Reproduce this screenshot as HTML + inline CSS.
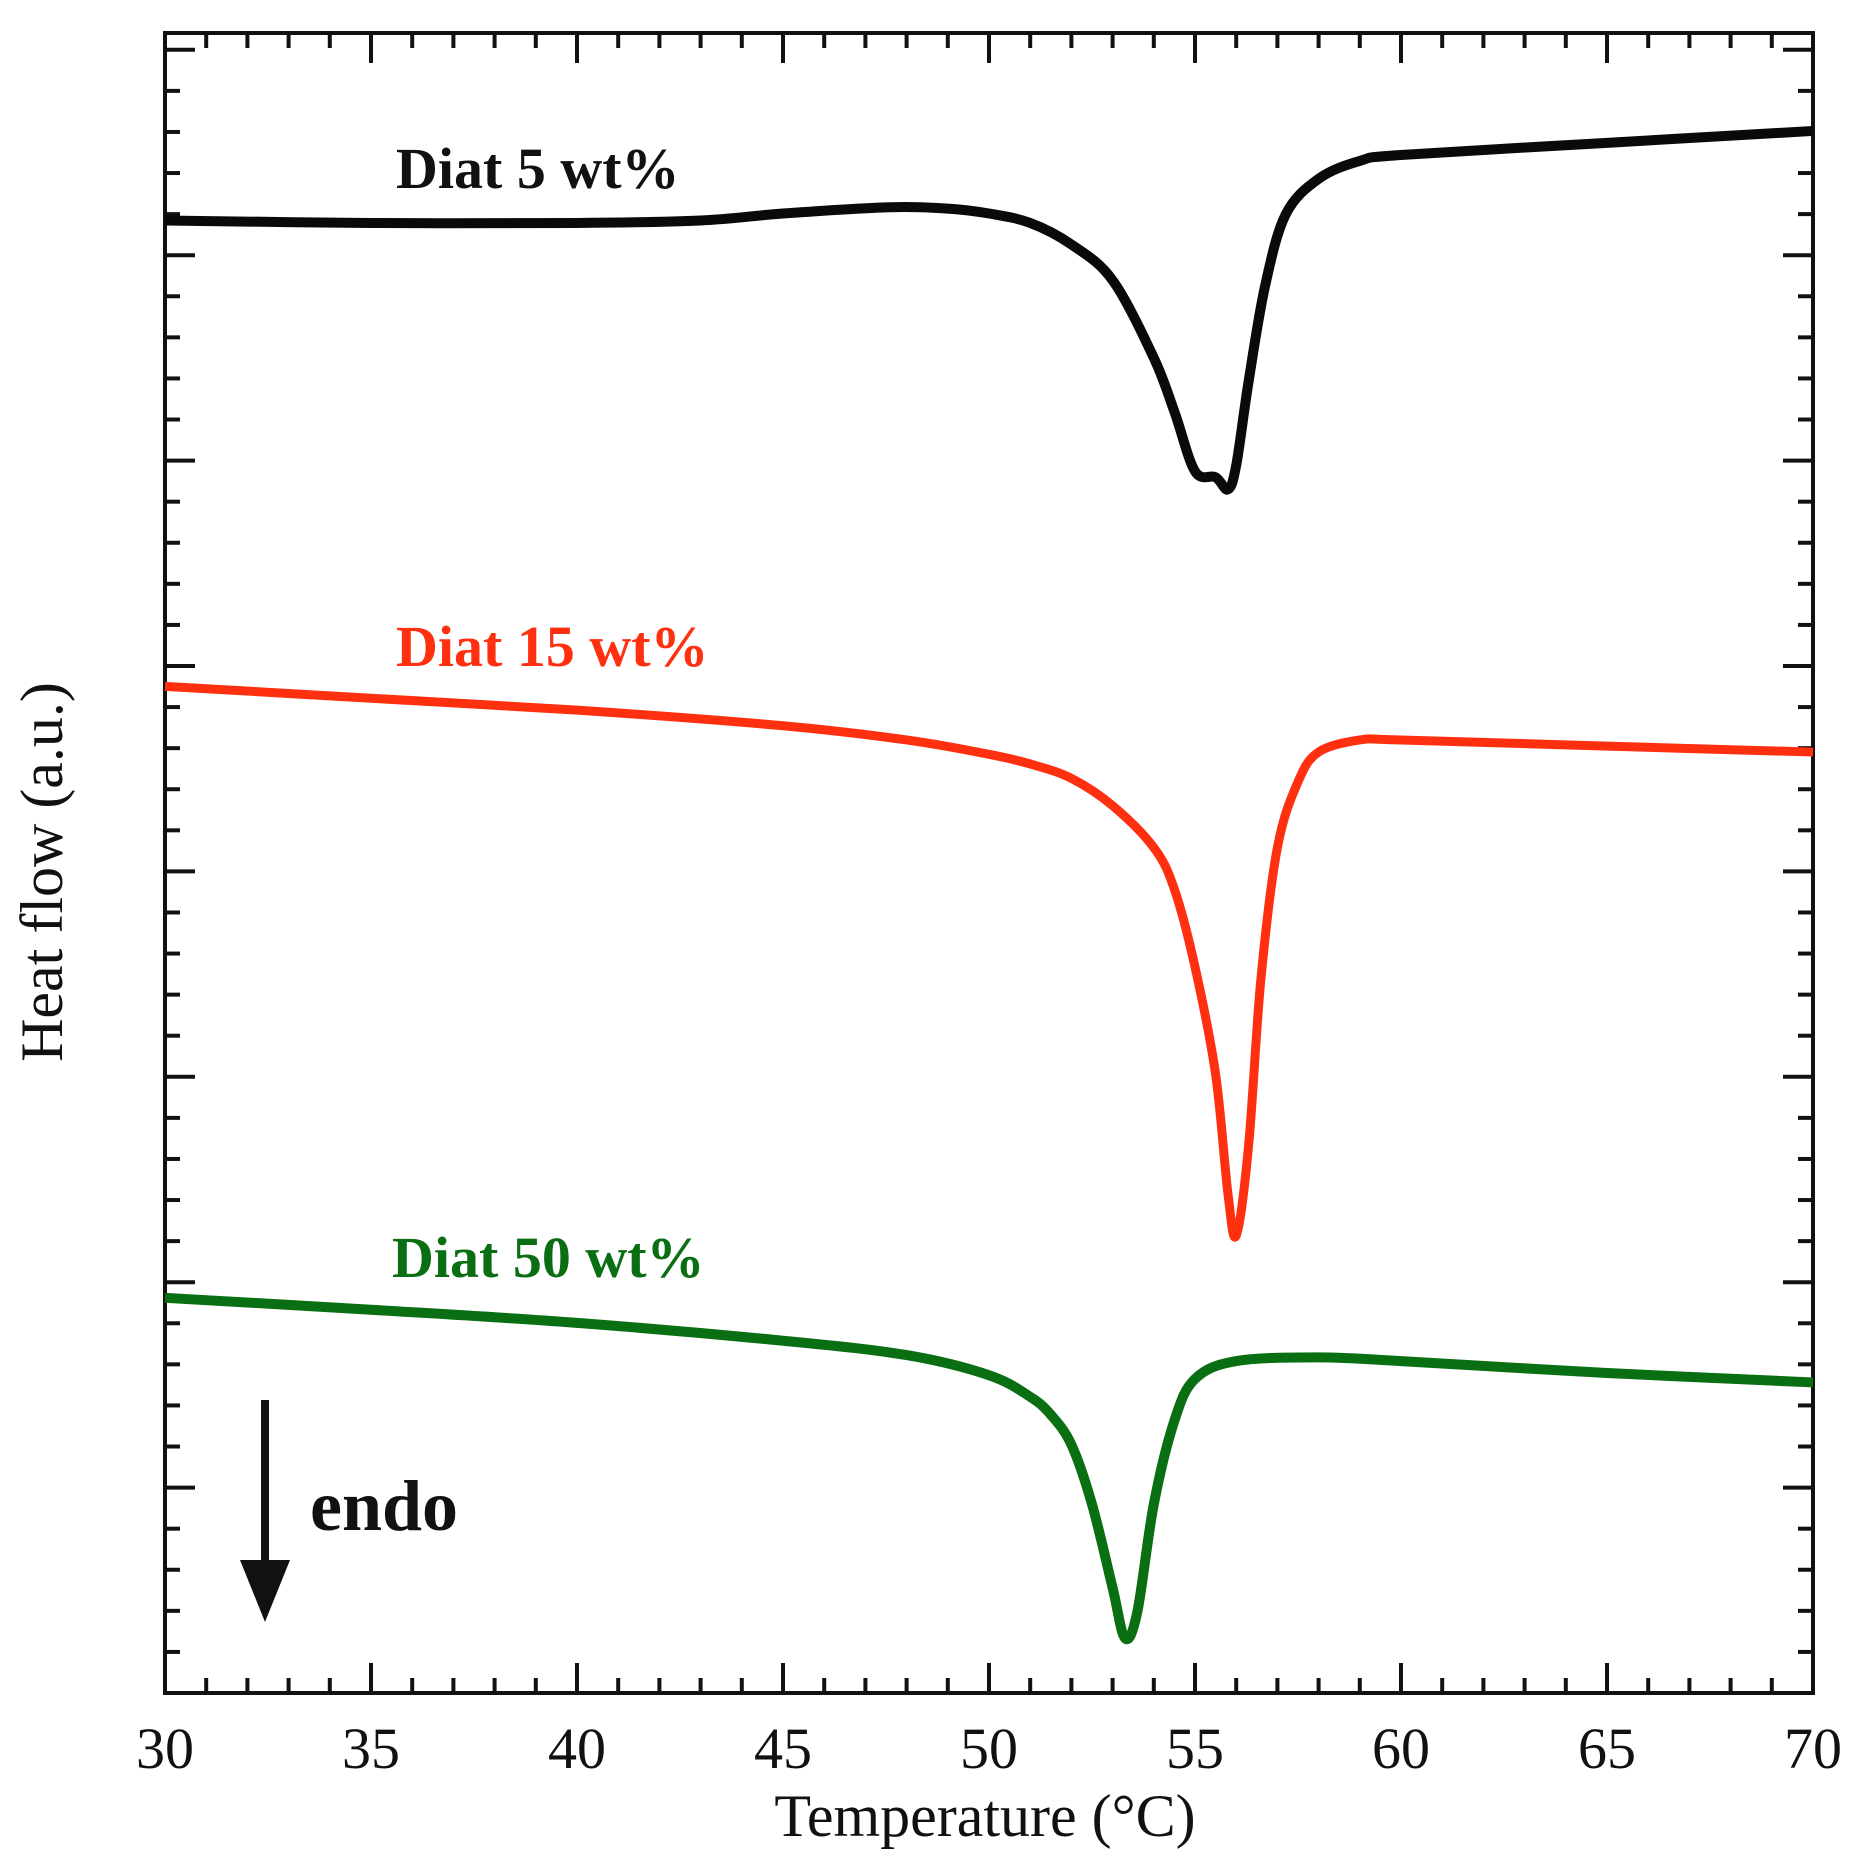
<!DOCTYPE html>
<html><head><meta charset="utf-8"><style>
body{margin:0;background:#fff}
svg text{font-family:"Liberation Serif",serif}
</style></head><body>
<svg id="chart" width="1862" height="1870" viewBox="0 0 1862 1870" xmlns="http://www.w3.org/2000/svg">
<g id="axes"></g>
<g id="series"></g>
<text x="396" y="188" font-size="58" font-weight="bold" fill="#111">Diat 5 wt%</text>
<text x="396" y="666" font-size="58" font-weight="bold" fill="#ff3010">Diat 15 wt%</text>
<text x="392" y="1277" font-size="58" font-weight="bold" fill="#0a6e12">Diat 50 wt%</text>
<text x="985" y="1836" font-size="60" text-anchor="middle" fill="#111">Temperature (°C)</text>
<text transform="translate(62,872) rotate(-90)" font-size="60" text-anchor="middle" fill="#111">Heat flow (a.u.)</text>
<g>
<line x1="265" y1="1400" x2="265" y2="1575" stroke="#111" stroke-width="8"/>
<polygon points="240,1560 290,1560 265,1622" fill="#111"/>
</g>
<text x="310" y="1530" font-size="72" font-weight="bold" fill="#111">endo</text>
</svg>
<script>
const xTickLabels=["30","35","40","45","50","55","60","65","70"];
const xTickValues=[30,35,40,45,50,55,60,65,70];
const blackX=[30,35,40,43,45,47.5,49,50,51,52,53,54,54.5,55,55.5,55.8,56.0,56.3,56.7,57.2,58,59,60,65,70];
const blackY=[7.169,7.157,7.157,7.169,7.203,7.233,7.227,7.203,7.157,7.052,6.878,6.5,6.238,5.948,5.919,5.860,5.977,6.384,6.849,7.198,7.372,7.459,7.488,7.547,7.605];
const redX=[30,35,40,45,48,50,51,52,53,54,54.5,55,55.5,55.8,56,56.3,56.6,57,57.5,58,59,60,65,70];
const redY=[4.901,4.843,4.785,4.709,4.640,4.570,4.523,4.453,4.320,4.116,3.913,3.535,3.012,2.430,2.227,2.663,3.477,4.116,4.436,4.581,4.640,4.640,4.610,4.581];
const greenX=[30,35,40,45,48,50,51,51.5,52,52.5,53,53.3,53.6,54,54.5,55,56,58,60,65,70];
const greenY=[1.924,1.866,1.802,1.715,1.645,1.547,1.442,1.355,1.209,0.919,0.512,0.267,0.395,0.919,1.326,1.529,1.616,1.634,1.616,1.558,1.512];

const L=165,R=1813,T=33,B=1693;
const xMin=30,xMax=70,yMin=0,yMax=(B-T)/205.4;
const sx=v=>L+(v-xMin)/(xMax-xMin)*(R-L);
const sy=v=>B-(v-yMin)/(yMax-yMin)*(B-T);
const NS="http://www.w3.org/2000/svg";
function mk(tag,attrs,parent){const e=document.createElementNS(NS,tag);for(const k in attrs)e.setAttribute(k,attrs[k]);parent.appendChild(e);return e;}
const axes=document.getElementById('axes');
const frame=mk('rect',{x:L,y:T,width:R-L,height:B-T,fill:'none',stroke:'#111','stroke-width':4},axes);


for(let v=30;v<=70;v++){
  const major=v%5===0,len=major?30:15,x=sx(v);
  const t1=mk('line',{x1:x,y1:B,x2:x,y2:B-len,stroke:'#111','stroke-width':4},axes);
  
  
  const t2=mk('line',{x1:x,y1:T,x2:x,y2:T+len,stroke:'#111','stroke-width':4},axes);
  
  
}
xTickValues.forEach((v,i)=>{
  const t=mk('text',{x:sx(v),y:1768,'font-size':58,'text-anchor':'middle',fill:'#111'},axes);
  t.textContent=xTickLabels[i];
  
  
});
for(let k=1;k*0.2<yMax;k++){
  const v=k*0.2,major=k%5===0,len=major?30:15,y=sy(v);
  if(y<T+5)continue;
  const a=mk('line',{x1:L,y1:y,x2:L+len,y2:y,stroke:'#111','stroke-width':4},axes);
  
  
  const b=mk('line',{x1:R,y1:y,x2:R-len,y2:y,stroke:'#111','stroke-width':4},axes);
  
  
}
function pathFrom(xs,ys){
  const p=xs.map((x,i)=>[sx(x),sy(ys[i])]);
  let d='M'+p[0][0]+','+p[0][1];
  for(let i=0;i<p.length-1;i++){
    const p0=p[i-1]||p[i],p1=p[i],p2=p[i+1],p3=p[i+2]||p2;
    const c1=[p1[0]+(p2[0]-p0[0])/6,p1[1]+(p2[1]-p0[1])/6];
    const c2=[p2[0]-(p3[0]-p1[0])/6,p2[1]-(p3[1]-p1[1])/6];
    d+=' C'+c1+' '+c2+' '+p2;
  }
  return d;
}
const series=document.getElementById('series');
const s1=mk('path',{d:pathFrom(blackX,blackY),fill:'none',stroke:'#0a0a0a','stroke-width':10,'stroke-linejoin':'round'},series);


const s2=mk('path',{d:pathFrom(redX,redY),fill:'none',stroke:'#ff3010','stroke-width':9,'stroke-linejoin':'round'},series);


const s3=mk('path',{d:pathFrom(greenX,greenY),fill:'none',stroke:'#0a6e12','stroke-width':10,'stroke-linejoin':'round'},series);


</script>
</body></html>
